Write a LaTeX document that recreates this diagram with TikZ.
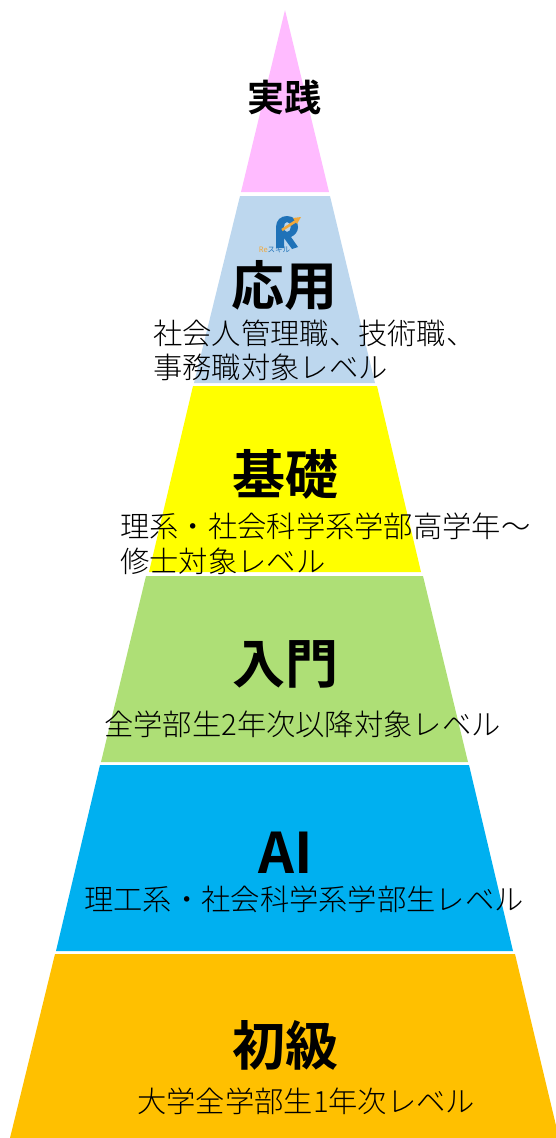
\documentclass[tikz,border=0pt]{standalone}
\usepackage{fontspec}
\setmainfont{Noto Sans CJK JP Light}
\newfontfamily\jpbold{Noto Sans CJK JP Bold}
\newfontfamily\jpregular{Noto Sans CJK JP}
\definecolor{cpink}{HTML}{FFBBFF}
\definecolor{clblue}{HTML}{BDD7EE}
\definecolor{cyellow}{HTML}{FFFF00}
\definecolor{cgreen}{HTML}{AEDF76}
\definecolor{cblue}{HTML}{00B0F0}
\definecolor{corange}{HTML}{FFC000}
\definecolor{logoblue}{HTML}{1F72B8}
\definecolor{logoorange}{HTML}{F0A83C}
\tikzset{
  head/.style={font=\jpbold\fontsize{53}{58}\selectfont,inner sep=0pt,text=black},
  subtext/.style={font=\fontsize{29.3}{34}\selectfont,inner sep=0pt,anchor=west,text=black},
}
\begin{document}
\begin{tikzpicture}[x=1pt,y=-1pt]
\useasboundingbox (0,0) rectangle (556,1138);
\clip (0,0) rectangle (556,1138);
\fill[cpink] (285,10) -- (329,192) -- (241,192) -- cycle;
\fill[clblue] (240,196) -- (330,196) -- (375,383) -- (194,383) -- cycle;
\fill[cyellow] (193,386) -- (377,386) -- (421,572) -- (149,572) -- cycle;
\fill[cgreen] (146,576) -- (423,576) -- (468,762) -- (101,762) -- cycle;
\fill[cblue] (100,765) -- (469,765) -- (513,951) -- (56,951) -- cycle;
\fill[corange] (55,954) -- (515,954) -- (559,1138) -- (10,1138) -- cycle;
% logo
\fill[logoblue,even odd rule] (276,248) -- (276,227) .. controls (276,220) and (281,216) .. (287,216)
  .. controls (294,216) and (298,221) .. (298,227) .. controls (298,232) and (295,235) .. (291,237)
  -- (298,247) -- (292,249) -- (284,238) -- (284,248) -- cycle
  (287,222) .. controls (283,222) and (283,232) .. (287,232) .. controls (292,232) and (292,222) .. (287,222) -- cycle;
\draw[logoorange,line width=2.6pt] (282,230) -- (296,221);
\fill[logoorange] (301,217) -- (293,218) -- (297,224) -- cycle;
\node[inner sep=0pt,font=\jpregular\fontsize{7.5}{8}\selectfont] (logotext) at (274.5,249.5) {\textcolor{logoorange}{Re}\textcolor{logoblue}{スキル}};
% texts
\node[head,font=\jpbold\fontsize{37}{40}\selectfont] (jissen) at (284.5,97) {実践};
\node[head] (ouyou) at (284,285) {応用};
\node[subtext] (ouyoua) at (153,333) {社会人管理職、技術職、};
\node[subtext] (ouyoub) at (153,367) {事務職対象レベル};
\node[head] (kiso) at (285,474) {基礎};
\node[subtext] (kisoa) at (120,526) {理系・社会科学系学部高学年～};
\node[subtext] (kisob) at (120,561) {修士対象レベル};
\node[head] (nyumon) at (285,664) {入門};
\node[subtext] (nyumona) at (104,724) {全学部生2年次以降対象レベル};
\node[head,font=\jpbold\fontsize{56}{60}\selectfont] (ai) at (285.5,853) {AI};
\node[subtext] (aia) at (84,899) {理工系・社会科学系学部生レベル};
\node[head] (shokyu) at (285,1045) {初級};
\node[subtext] (shokyua) at (137,1101) {大学全学部生1年次レベル};
\end{tikzpicture}
\end{document}
